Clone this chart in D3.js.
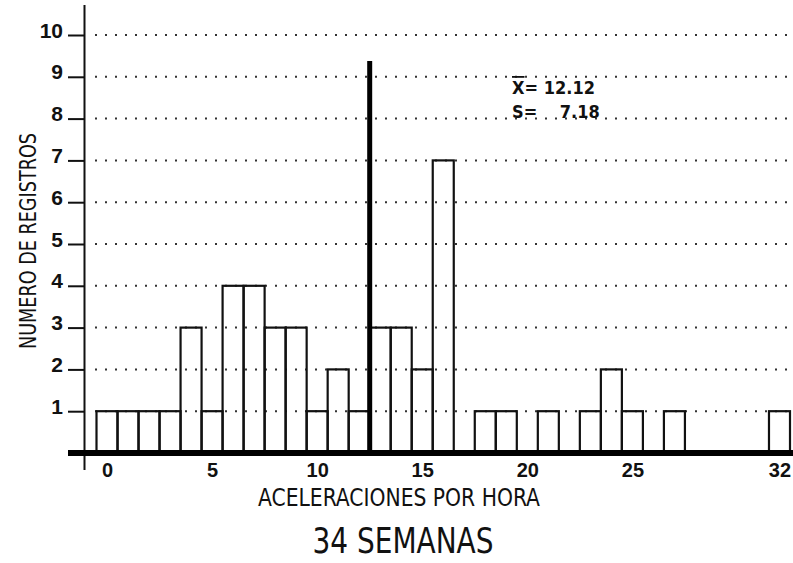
<!DOCTYPE html>
<html>
<head>
<meta charset="utf-8">
<script src="https://cdn.jsdelivr.net/npm/d3@7"></script>
<style>
  body { margin: 0; background: #fff; }
  svg { display: block; }
  text { font-family: 'Liberation Sans Narrow', 'DejaVu Sans Condensed', 'Liberation Sans', sans-serif; fill: #111; }
  .num { font-family: 'Liberation Sans Narrow', 'Liberation Sans', sans-serif; font-weight: bold; }
</style>
</head>
<body>
<div id="chart"></div>
<script>
// Data //
const bins = d3.range(0, 33)
const counts = [1, 1, 1, 1, 3, 1, 4, 4, 3, 3, 1, 2, 1, 3, 3, 2, 7, 0, 1, 1, 0, 1, 0, 1, 2, 1, 0, 1, 0, 0, 0, 0, 1]
const xTickValues = [0, 5, 10, 15, 20, 25, 32]
const yTickValues = [1, 2, 3, 4, 5, 6, 7, 8, 9, 10]
const meanText = '12.12'
const sdText = '7.18'
const meanLineAt = 13 // bin edge where the line sits in the picture

const width = 793
const height = 563

const svg = d3.select('#chart').append('svg')
    .attr('width', width)
    .attr('height', height)

// Scales //
const x = d3.scaleLinear().domain([0, 33]).range([96.5, 790])
const xc = d3.scaleLinear().domain([-0.5, 32.5]).range([96.5, 790])
const y = d3.scaleLinear().domain([0, 10]).range([453, 35])

// Grid //
svg.append('g')
    .selectAll('line')
    .data(yTickValues)
    .enter()
    .append('line')
        .attr('x1', 95)
        .attr('x2', width)
        .attr('y1', d => y(d))
        .attr('y2', d => y(d))
        .attr('stroke', '#333')
        .attr('stroke-width', 2)
        .attr('stroke-dasharray', '2,8')

// Bars //
svg.append('g')
    .selectAll('rect')
    .data(bins.filter(i => counts[i] > 0))
    .enter()
    .append('rect')
        .attr('x', i => x(i))
        .attr('y', i => y(counts[i]))
        .attr('width', i => x(i + 1) - x(i))
        .attr('height', i => y(0) - y(counts[i]))
        .attr('fill', 'none')
        .attr('stroke', '#111')
        .attr('stroke-width', 2.2)

// Axes //
const yAxis = svg.append('g')
    .attr('transform', 'translate(84,0)')
    .call(d3.axisLeft(y).tickValues(yTickValues).tickSize(16).tickPadding(5))

yAxis.select('.domain').remove()
yAxis.selectAll('line').attr('stroke', '#111').attr('stroke-width', 2)
yAxis.selectAll('text')
    .attr('class', 'num')
    .attr('dy', '0.1em')
    .attr('font-family', null)
    .style('font-size', '21px')

svg.append('line')
    .attr('x1', 84.5).attr('x2', 84.5)
    .attr('y1', 5).attr('y2', 470)
    .attr('stroke', '#111')
    .attr('stroke-width', 2)

const xAxis = svg.append('g')
    .attr('transform', `translate(0,${y(0)})`)
    .call(d3.axisBottom(xc).tickValues(xTickValues).tickSize(0).tickPadding(10))

xAxis.select('.domain').remove()
xAxis.selectAll('text')
    .attr('class', 'num')
    .attr('font-family', null)
    .style('font-size', '20px')

svg.append('line')
    .attr('x1', 68).attr('x2', width)
    .attr('y1', y(0)).attr('y2', y(0))
    .attr('stroke', '#000')
    .attr('stroke-width', 6)

// Mean line //
svg.append('line')
    .attr('x1', x(meanLineAt)).attr('x2', x(meanLineAt))
    .attr('y1', 61).attr('y2', y(0))
    .attr('stroke', '#000')
    .attr('stroke-width', 5)

// Stats //
const stats = svg.append('g').attr('class', 'num').style('font-size', '18px')

const meanLabel = stats.append('text')
    .attr('x', 512)
    .attr('y', 94)
meanLabel.append('tspan')
    .style('text-decoration', 'overline')
    .text('X')
meanLabel.append('tspan').text('= ' + meanText)

stats.append('text')
    .attr('x', 512)
    .attr('y', 118)
    .attr('xml:space', 'preserve')
    .text('S=    ' + sdText)

// Titles //
svg.append('text')
    .attr('transform', 'translate(36,241) rotate(-90)')
    .attr('text-anchor', 'middle')
    .attr('textLength', 216)
    .attr('lengthAdjust', 'spacingAndGlyphs')
    .style('font-size', '23px')
    .text('NUMERO DE REGISTROS')

svg.append('text')
    .attr('x', 399)
    .attr('y', 506)
    .attr('text-anchor', 'middle')
    .attr('textLength', 282)
    .attr('lengthAdjust', 'spacingAndGlyphs')
    .style('font-size', '25px')
    .text('ACELERACIONES POR HORA')

svg.append('text')
    .attr('x', 403)
    .attr('y', 553)
    .attr('text-anchor', 'middle')
    .attr('textLength', 181)
    .attr('lengthAdjust', 'spacingAndGlyphs')
    .style('font-size', '35px')
    .style('font-weight', 300)
    .text('34 SEMANAS')
</script>
</body>
</html>
